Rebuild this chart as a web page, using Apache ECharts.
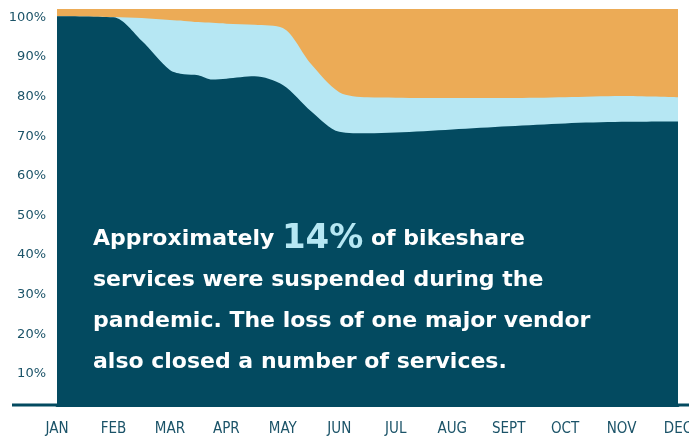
<!DOCTYPE html>
<html>
<head>
<meta charset="utf-8">
<script src="https://cdn.jsdelivr.net/npm/echarts@6/dist/echarts.min.js"></script>
<style>
  html, body { margin: 0; padding: 0; background: #fff; }
  #chart { width: 689px; height: 439px; }
</style>
</head>
<body>
<div id="chart"></div>
<script>
  // month labels and positions (month index, fractional where the curve bends)
  const monthNames = ['JAN', 'FEB', 'MAR', 'APR', 'MAY', 'JUN', 'JUL', 'AUG', 'SEPT', 'OCT', 'NOV', 'DEC'];
  const months = [0, 1, 1.5, 2, 2.25, 2.5, 2.75, 3, 3.5, 4, 4.5, 5, 5.5, 6, 7, 8, 9, 10, 11];

  // share of services (%)
  const operating = [98.2, 97.9, 92.0, 84.6, 83.5, 83.3, 82.2, 82.4, 83.0, 80.8, 74.2, 69.0, 68.6, 68.8, 69.6, 70.4, 71.1, 71.5, 71.6];
  const suspended = [0.0, 0.1, 5.7, 12.6, 13.5, 13.4, 14.3, 13.9, 13.0, 14.4, 11.9, 10.0, 9.1, 8.8, 7.9, 7.1, 6.6, 6.5, 6.1];
  const other = [1.8, 2.0, 2.3, 2.8, 3.0, 3.3, 3.5, 3.7, 4.0, 4.8, 13.9, 21.0, 22.3, 22.4, 22.5, 22.5, 22.3, 22.0, 22.3];

  const dark = '#034a60';
  const axisFont = "'Liberation Sans Narrow', 'DejaVu Sans Condensed', 'DejaVu Sans', sans-serif";

  // running totals, so each band is drawn up to its own top edge
  const layers = [operating, suspended, other];
  const tops = layers.map((_, k) =>
    months.map((m, i) => {
      let s = 0;
      for (let j = 0; j <= k; j++) s += layers[j][i];
      return [m, +s.toFixed(2)];
    })
  );

  function area(name, data, color, z) {
    return {
      name: name,
      type: 'line',
      smooth: 0.3,
      symbol: 'none',
      z: z,
      lineStyle: { width: 0 },
      areaStyle: { color: color, opacity: 1 },
      data: data
    };
  }

  let chart = echarts.init(document.getElementById('chart'));
  let option = {
    animation: false,
    grid: { left: 57, right: 11, top: 9, bottom: 34, outerBoundsMode: 'none', containLabel: false },
    xAxis: {
      type: 'value',
      min: 0,
      max: 11,
      interval: 1,
      splitLine: { show: false },
      axisTick: { show: false },
      axisLine: { show: true, onZero: false, lineStyle: { color: dark, width: 3 } },
      z: 10,
      axisLabel: {
        margin: 17,
        color: '#1b5368',
        fontSize: 15,
        fontFamily: axisFont,
        formatter: v => monthNames[v] || ''
      }
    },
    yAxis: {
      type: 'value',
      min: 0,
      max: 100,
      interval: 10,
      splitLine: { show: false },
      axisTick: { show: false },
      axisLine: { show: false },
      axisLabel: {
        margin: 11,
        color: '#1b5368',
        fontSize: 13,
        fontFamily: "'DejaVu Sans', sans-serif",
        verticalAlign: 'top',
        padding: [2, 0, 0, 0],
        formatter: v => v === 0 ? '' : v + '%'
      }
    },
    series: [
      area('Other', tops[2], '#ecab56', 1),
      area('Suspended', tops[1], '#b6e7f3', 2),
      area('Operating', tops[0], dark, 3)
    ],
    graphic: [
      // baseline running past the plot on both sides
      { type: 'line', shape: { x1: 12, y1: 405, x2: 57, y2: 405 }, style: { stroke: dark, lineWidth: 3 } },
      { type: 'line', shape: { x1: 678, y1: 405, x2: 689, y2: 405 }, style: { stroke: dark, lineWidth: 3 } },
      {
        type: 'text',
        left: 93,
        top: 219,
        z: 100,
        style: {
          text: 'Approximately {big|14%} of bikeshare\nservices were suspended during the\npandemic. The loss of one major vendor\nalso closed a number of services.',
          fill: '#ffffff',
          fontFamily: "'DejaVu Sans', sans-serif",
          fontWeight: 'bold',
          fontSize: 22,
          lineHeight: 41,
          rich: {
            big: {
              fill: '#b6e7f3',
              fontFamily: "'DejaVu Sans', sans-serif",
              fontWeight: 'bold',
              fontSize: 34,
              lineHeight: 41
            }
          }
        }
      }
    ]
  };
  chart.setOption(option);
</script>
</body>
</html>
